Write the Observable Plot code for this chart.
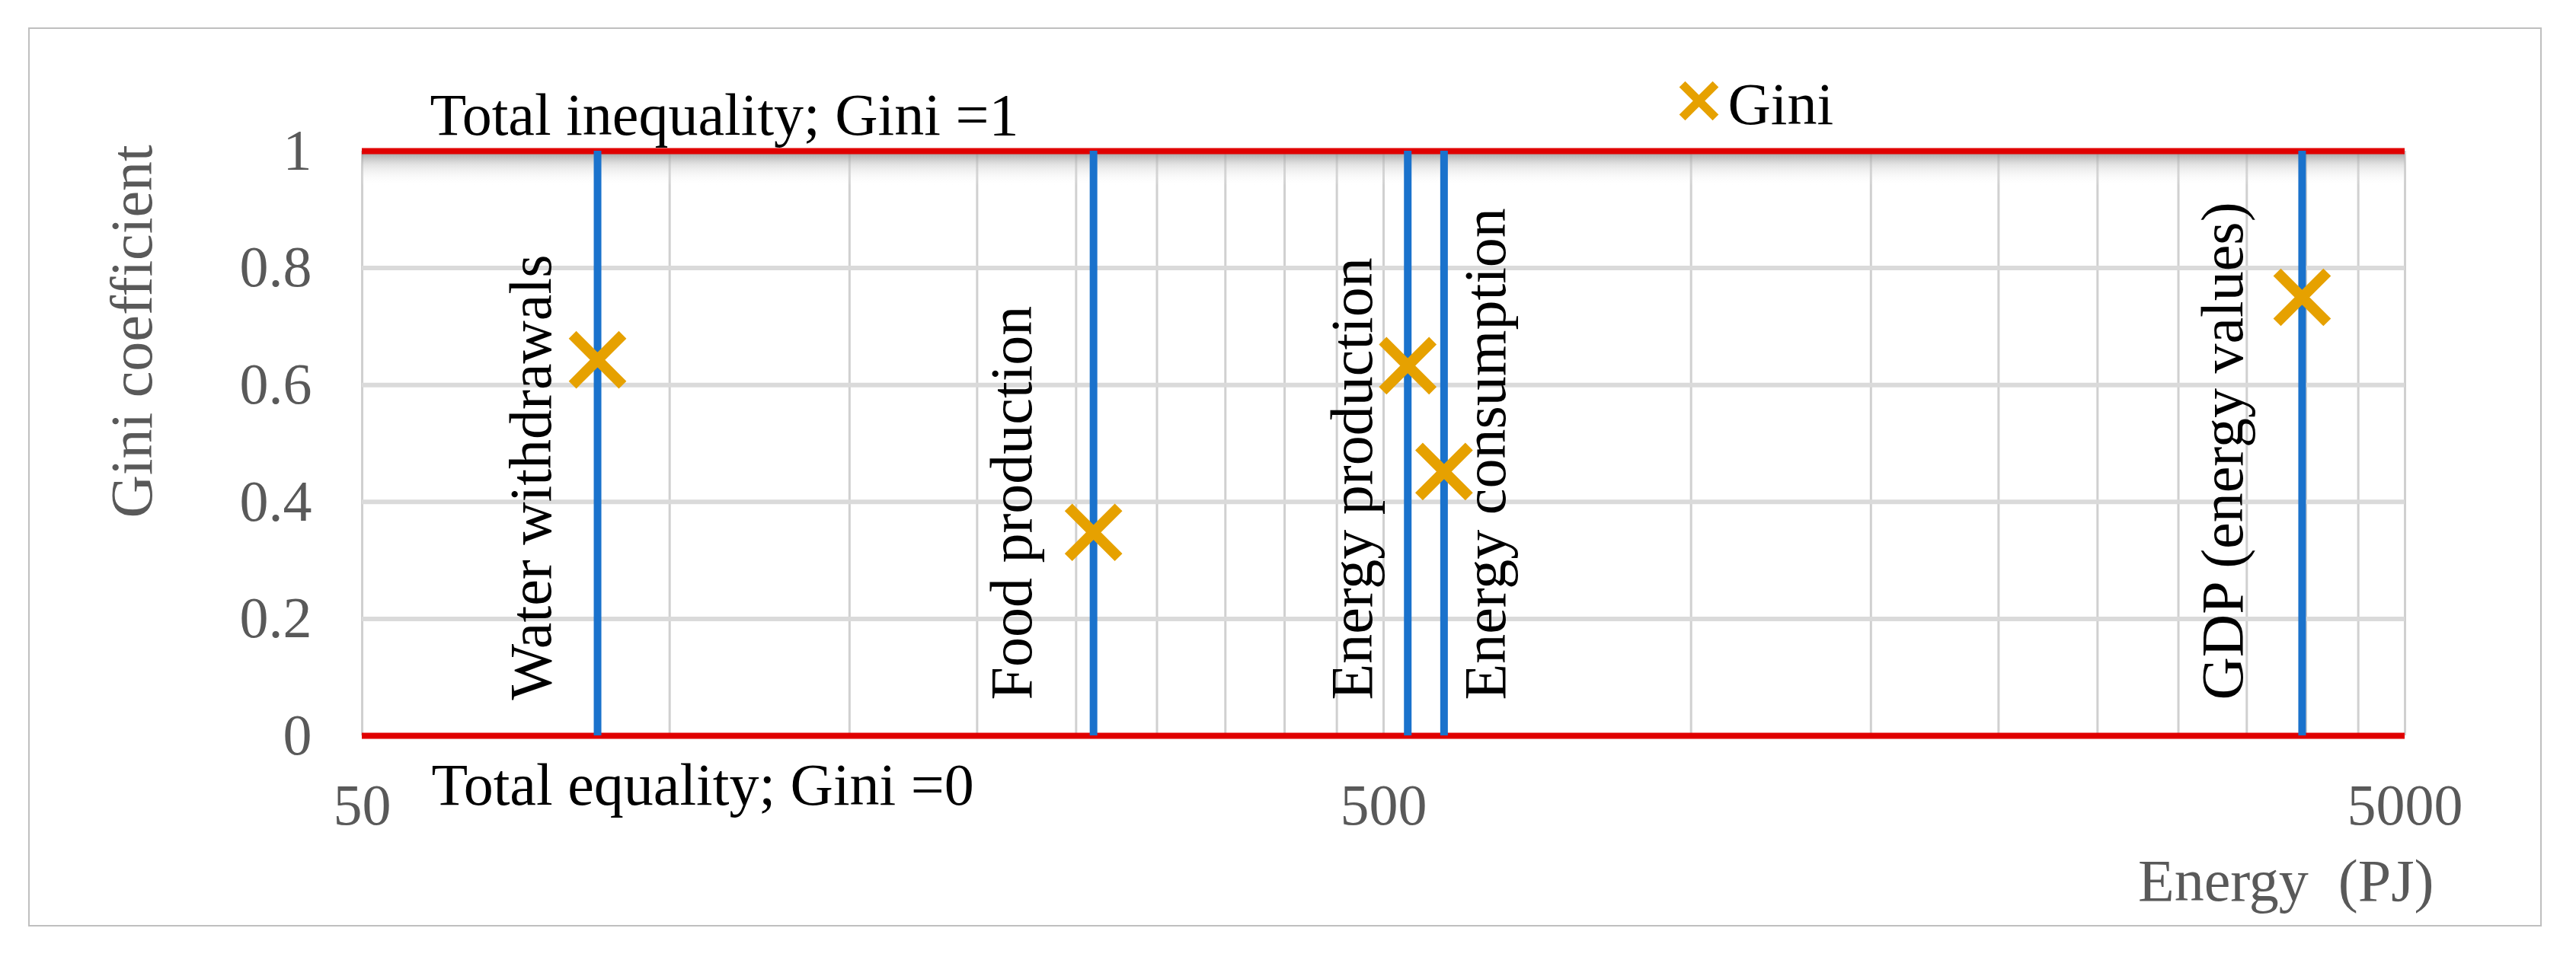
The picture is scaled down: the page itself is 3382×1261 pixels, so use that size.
<!DOCTYPE html>
<html>
<head>
<meta charset="utf-8">
<script src="https://cdn.jsdelivr.net/npm/d3@7"></script>
<script src="https://cdn.jsdelivr.net/npm/@observablehq/plot@0.6"></script>
<style>
  html, body { margin: 0; padding: 0; background: #ffffff; overflow: hidden; }
  #wrap { position: relative; width: 3382px; height: 1261px; }
  #wrap svg { position: absolute; left: 0; top: 0; }
  #wrap svg text { white-space: pre; }
  #border { position: absolute; left: 37px; top: 36px; width: 3296px; height: 1177px;
            border: 2px solid #bfbfbf; box-sizing: content-box; pointer-events: none; }
</style>
</head>
<body>
<div id="wrap"><div id="border"></div></div>
<script>
// ---- data ----
const categories = ["Water withdrawals", "Food production", "Energy production", "Energy consumption", "GDP (energy values)"];
const energyPJ = [85, 260, 528, 573, 3965];
const gini = [0.643, 0.348, 0.633, 0.452, 0.75];
const giniBounds = [0, 1];
const boundLabels = ["Total equality; Gini =0", "Total inequality; Gini =1"];
const xDomain = [50, 5000];
const xTicks = [50, 500, 5000];
const xGrid = [50, 100, 150, 200, 250, 300, 350, 400, 450, 500, 1000, 1500, 2000, 2500, 3000, 3500, 4000, 4500, 5000];
const yTicks = [0, 0.2, 0.4, 0.6, 0.8, 1];
const seriesName = "Gini";
const xTitle = "Energy  (PJ)";
const yTitle = "Gini coefficient";

// ---- styles ----
const FONT = "'Liberation Serif', 'Times New Roman', serif";
const RED = "#e00000", BLUE = "#1a72cc", ORANGE = "#e6a100", GRID = "#d0d0d0", GRAY = "#595959";
const labelDx = [-62, -82, -47, 80, -78];
const labelFont = 78, tickFont = 76;
const shadowDepth = 0.06;

const rows = categories.map((c, i) => ({category: c, energy: energyPJ[i], gini: gini[i]}));
const innerY = yTicks.filter(v => !giniBounds.includes(v));

const chart = Plot.plot({
  width: 3382,
  height: 1261,
  marginLeft: 475,
  marginRight: 225,
  marginTop: 198,
  marginBottom: 295,
  x: {type: "log", domain: xDomain},
  y: {domain: giniBounds},
  style: {fontFamily: FONT, background: "transparent", overflow: "visible"},
  marks: [
    Plot.ruleX(xGrid, {stroke: GRID, strokeWidth: 3}),
    Plot.ruleY(innerY, {stroke: "#dadada", strokeWidth: 6}),
    Plot.rect([0], {x1: () => xDomain[0], x2: () => xDomain[1], y1: () => giniBounds[1], y2: () => giniBounds[1] - shadowDepth, fill: "url(#topShadow)"}),
    Plot.ruleY(giniBounds, {stroke: RED, strokeWidth: 8}),
    Plot.ruleX(rows, {x: "energy", y1: () => giniBounds[0], y2: () => giniBounds[1], stroke: BLUE, strokeWidth: 10}),
    Plot.dot(rows, {x: "energy", y: "gini", symbol: "times", r: 30, stroke: ORANGE, strokeWidth: 14}),
    ...rows.map((d, i) => Plot.text([d], {
      x: "energy", y: () => giniBounds[0], text: "category", rotate: -90,
      textAnchor: "start", lineAnchor: "bottom", dx: labelDx[i], dy: -47,
      fontSize: labelFont, fill: "#000"
    })),
    Plot.text([boundLabels[1]], {x: () => xDomain[0], y: () => giniBounds[1], text: d => d,
      textAnchor: "start", lineAnchor: "bottom", dx: 89, dy: -22, fontSize: labelFont, fill: "#000"}),
    Plot.text([boundLabels[0]], {x: () => xDomain[0], y: () => giniBounds[0], text: d => d,
      textAnchor: "start", lineAnchor: "bottom", dx: 91, dy: 90, fontSize: labelFont, fill: "#000"}),
    // legend
    Plot.dot([seriesName], {x: () => xDomain[1], y: () => giniBounds[1], symbol: "times", r: 20,
      stroke: ORANGE, strokeWidth: 11, dx: -927, dy: -66}),
    Plot.text([seriesName], {x: () => xDomain[1], y: () => giniBounds[1], text: d => d,
      textAnchor: "start", lineAnchor: "bottom", dx: -889, dy: -36, fontSize: 78, fill: "#000"}),
    // axes
    Plot.axisX(xTicks, {tickSize: 0, tickPadding: 63, fontSize: tickFont, color: GRAY, label: null, tickFormat: d => String(d)}),
    Plot.axisY(yTicks, {tickSize: 0, tickPadding: 66, fontSize: tickFont, color: GRAY, label: null, tickFormat: d => String(d)}),
    Plot.text([yTitle], {frameAnchor: "top-left", text: d => d, rotate: -90, textAnchor: "start", lineAnchor: "bottom",
      dx: -277, dy: 482, fontSize: labelFont, fill: GRAY}),
    Plot.text([xTitle], {frameAnchor: "bottom-right", text: d => d, textAnchor: "end", lineAnchor: "bottom",
      dx: 38, dy: 216, fontSize: labelFont, fill: GRAY})
  ]
});

const defs = d3.select(chart).insert("defs", ":first-child");
const grad = defs.append("linearGradient").attr("id", "topShadow").attr("x1", 0).attr("y1", 0).attr("x2", 0).attr("y2", 1);
grad.append("stop").attr("offset", "0%").attr("stop-color", "#8c8c8c").attr("stop-opacity", 0.9);
grad.append("stop").attr("offset", "40%").attr("stop-color", "#c8c8c8").attr("stop-opacity", 0.5);
grad.append("stop").attr("offset", "100%").attr("stop-color", "#ffffff").attr("stop-opacity", 0);

document.getElementById("wrap").prepend(chart);
</script>
</body>
</html>
